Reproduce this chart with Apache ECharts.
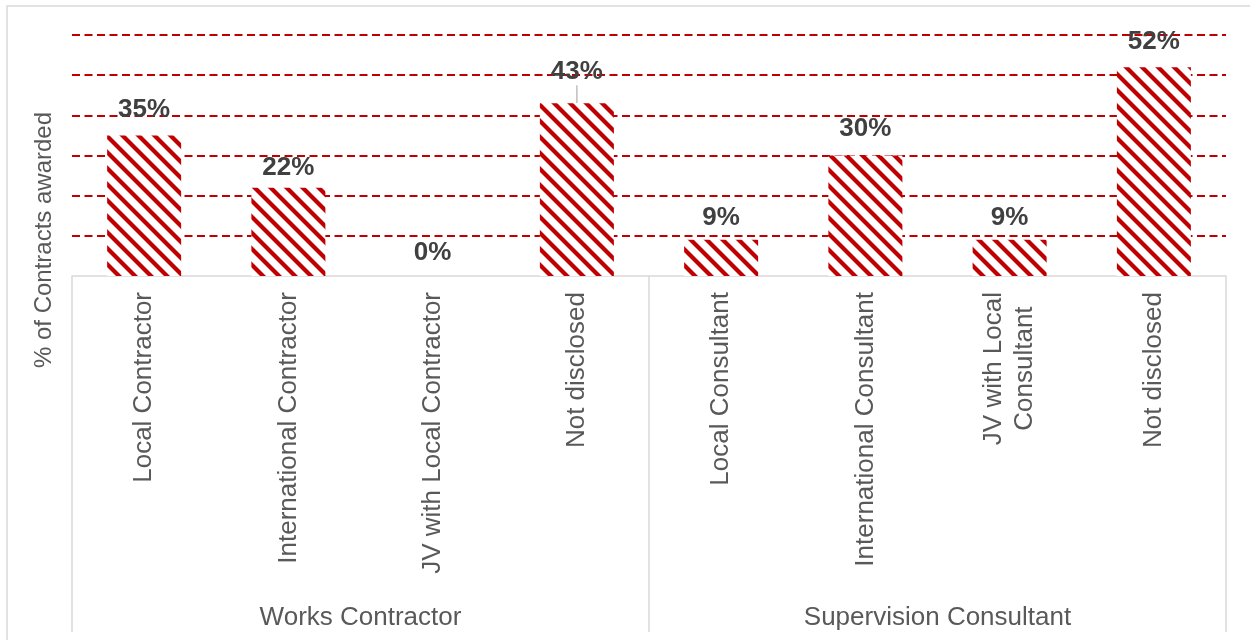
<!DOCTYPE html>
<html>
<head>
<meta charset="utf-8">
<script src="https://cdn.jsdelivr.net/npm/echarts@6/dist/echarts.min.js"></script>
<style>
  html, body { margin: 0; padding: 0; background: #ffffff; }
  #chart { width: 1250px; height: 640px; }
</style>
</head>
<body>
<div id="chart"></div>
<script>
// Contract award breakdown, % of contracts per awardee type
const categories = [
  'Local Contractor',
  'International Contractor',
  'JV with Local Contractor',
  'Not disclosed',
  'Local Consultant',
  'International Consultant',
  'JV with Local\nConsultant',
  'Not disclosed'
];
const groups = ['Works Contractor', 'Supervision Consultant'];
const shares = [35, 22, 0, 43, 9, 30, 9, 52];
const axisMin = 0;
const axisMax = 60;
const axisStep = 10;
const yTitle = '% of Contracts awarded';

// label spacing above each bar (styling only)
const labelGap = [13, 7, 10, 9, 9, 14, 9, 12];
// the label that was pulled up and keeps a leader line
const leaderIndex = 3;
const leaderLift = -9;

const FONT = '"Liberation Sans", Arial, Helvetica, sans-serif';
const RED = '#c00000';

// diagonal red/white stripe fill
function stripePattern() {
  const s = 16, w = 6;
  const c = document.createElement('canvas');
  c.width = s; c.height = s;
  const g = c.getContext('2d');
  g.fillStyle = '#ffffff';
  g.fillRect(0, 0, s, s);
  g.fillStyle = RED;
  for (const k of [-s, 0, s]) {
    g.beginPath();
    g.moveTo(k, 0);
    g.lineTo(k + w, 0);
    g.lineTo(k + w + s, s);
    g.lineTo(k + s, s);
    g.closePath();
    g.fill();
  }
  return c;
}

const chart = echarts.init(document.getElementById('chart'), null, { renderer: 'canvas' });
const pattern = { image: stripePattern(), repeat: 'repeat' };

chart.setOption({
  backgroundColor: '#ffffff',
  animation: false,
  grid: { left: 72, right: 24, top: 35, bottom: 364, outerBoundsMode: 'none' },
  graphic: [
    {
      type: 'rect', silent: true, z: -10,
      shape: { x: 7, y: 6, width: 1300, height: 700 },
      style: { fill: 'none', stroke: '#d9d9d9', lineWidth: 1.5 }
    },
    {
      type: 'text', silent: true,
      x: 44, y: 240, rotation: Math.PI / 2,
      style: {
        text: yTitle, fill: '#595959',
        font: '24px ' + FONT,
        align: 'center', verticalAlign: 'middle'
      }
    }
  ],
  xAxis: [
    {
      type: 'category',
      data: categories,
      axisLine: { show: true, lineStyle: { color: '#d9d9d9', width: 1.5 } },
      axisTick: { show: false },
      splitLine: { show: false },
      axisLabel: {
        interval: 0,
        rotate: 90,
        margin: 16,
        formatter: v => v.split('\n').map(s => '{c|' + s + '}').join('\n'),
        rich: {
          c: { align: 'center', fontSize: 26, lineHeight: 31, color: '#595959', fontFamily: FONT }
        }
      }
    },
    {
      type: 'category',
      data: groups,
      position: 'bottom',
      axisLine: { show: false },
      axisTick: { show: true, length: 356, lineStyle: { color: '#d9d9d9', width: 1.5 } },
      splitLine: { show: false },
      axisLabel: {
        interval: 0,
        margin: 329,
        fontSize: 26,
        color: '#595959',
        fontFamily: FONT
      }
    }
  ],
  yAxis: {
    type: 'value',
    min: axisMin,
    max: axisMax,
    interval: axisStep,
    axisLine: { show: false },
    axisTick: { show: false },
    axisLabel: { show: false },
    splitLine: {
      show: true,
      showMinLine: false,
      lineStyle: { color: RED, width: 2, type: [8, 4.5] }
    }
  },
  series: [{
    type: 'bar',
    xAxisIndex: 0,
    barWidth: 74,
    data: shares.map((v, i) => {
      const item = { value: v, label: { distance: labelGap[i] } };
      item.labelLine = i === leaderIndex
        ? { show: true, length2: 0, smooth: false, lineStyle: { color: '#bfbfbf', width: 1.5 } }
        : { show: false };
      return item;
    }),
    labelLayout: p => (p.dataIndex === leaderIndex ? { dy: leaderLift } : {}),
    itemStyle: { color: pattern },
    label: {
      show: true,
      position: 'top',
      formatter: '{c}%',
      fontSize: 26,
      fontWeight: 'bold',
      color: '#404040',
      fontFamily: FONT
    }
  }]
});
</script>
</body>
</html>
